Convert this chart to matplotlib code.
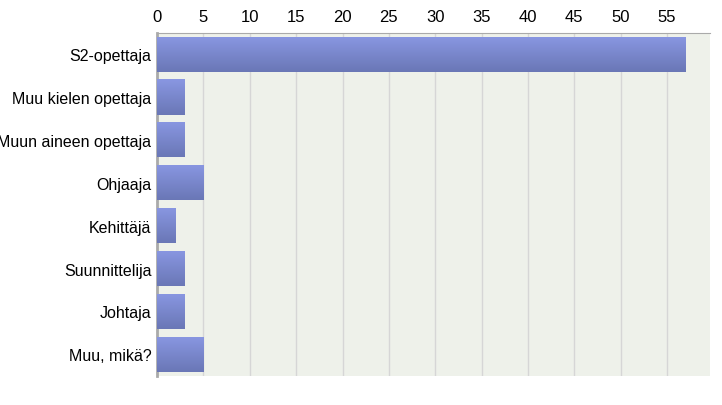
import matplotlib
matplotlib.use("Agg")
import matplotlib.pyplot as plt
import numpy as np

categories = ["S2-opettaja", "Muu kielen opettaja", "Muun aineen opettaja", "Ohjaaja",
              "Kehittäjä", "Suunnittelija", "Johtaja", "Muu, mikä?"]
values = [57, 3, 3, 5, 2, 3, 3, 5]
ticks = list(range(0, 60, 5))

plt.rcParams['font.family'] = ['Liberation Sans', 'DejaVu Sans']
fig = plt.figure(figsize=(7.22, 4.06), dpi=100)
ax = fig.add_axes([0.2175, 0.072, 0.7655, 0.845])
ax.set_facecolor('#eef1ea')
y = np.arange(len(categories))
bars = ax.barh(y, values, height=0.82, color='#7a88d0', zorder=3)
grad = np.linspace(0, 1, 100).reshape(-1, 1)
from matplotlib.colors import LinearSegmentedColormap
cmap = LinearSegmentedColormap.from_list('g', ['#8997e2', '#6a77b6'])
for b in bars:
    x0, y0, w, h = b.get_x(), b.get_y(), b.get_width(), b.get_height()
    im = ax.imshow(grad, extent=[x0, x0 + w, y0 + h, y0], cmap=cmap, aspect='auto', zorder=4)
    im.set_clip_path(b)
ax.set_xlim(0, 59.6)
ax.set_ylim(len(categories) - 0.5, -0.5)
ax.set_xticks(ticks)
ax.xaxis.tick_top()
ax.tick_params(axis='x', length=0, labelsize=12, pad=6)
ax.tick_params(axis='y', length=0, labelsize=11.5, pad=4)
ax.set_yticks(y)
ax.set_yticklabels(categories)
ax.grid(axis='x', color='#d6d6d6', linewidth=1, zorder=1)
for s in ['right', 'bottom']:
    ax.spines[s].set_visible(False)
ax.spines['top'].set_color('#aaaaaa')
ax.spines['left'].set_color('#aaaaaa')
ax.spines['left'].set_linewidth(2)
fig.savefig('out.png', dpi=100)
